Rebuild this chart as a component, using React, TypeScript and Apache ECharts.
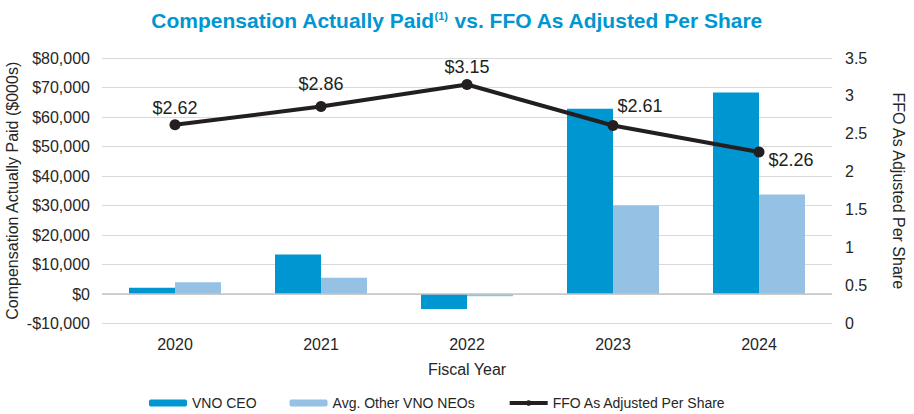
import React, { useEffect, useRef } from "react";
import * as echarts from "echarts";

const years = ["2020", "2021", "2022", "2023", "2024"];
const ceoValues = [2100, 13400, -5100, 62800, 68300];
const neoValues = [4000, 5500, -800, 30000, 33700];
const ffoValues = [2.62, 2.86, 3.15, 2.61, 2.26];
const ffoLabels = ["$2.62", "$2.86", "$3.15", "$2.61", "$2.26"];
const ffoLabelOffsets = [
  [0, -17],
  [0, -23],
  [0, -18],
  [27, -20],
  [32, 8],
];

const FONT = "'Liberation Sans', Arial, Helvetica, sans-serif";
const TXT = "#262626";

function money(v: number): string {
  const s = Math.abs(v)
    .toFixed(0)
    .replace(/\B(?=(\d{3})+(?!\d))/g, ",");
  return (v < 0 ? "-$" : "$") + s;
}

export default function App() {
  const ref = useRef<HTMLDivElement>(null);
  useEffect(() => {
    if (!ref.current) return;
    const chart = echarts.init(ref.current, undefined, { renderer: "svg" });
    chart.setOption({
      animation: false,
      backgroundColor: "#ffffff",
      title: {
        text: "{a|Compensation Actually Paid}{s|(1)}{a| vs. FFO As Adjusted Per Share}",
        left: "center",
        top: 5,
        textStyle: {
          rich: {
            a: {
              fontFamily: "'Liberation Sans Narrow', 'Arial Narrow', " + FONT,
              fontWeight: "bold",
              fontSize: 21,
              color: "#0096D1",
            },
            s: {
              fontFamily: "'Liberation Sans Narrow', 'Arial Narrow', " + FONT,
              fontWeight: "bold",
              fontSize: 11,
              color: "#0096D1",
              verticalAlign: "top",
              padding: [0, 0, 10, 0],
            },
          },
        },
      },
      legend: {
        bottom: -1,
        left: 144,
        itemWidth: 38,
        itemHeight: 7,
        itemGap: 33,
        textStyle: { fontFamily: FONT, fontSize: 14, color: TXT },
        data: [
          { name: "VNO CEO" },
          { name: "Avg. Other VNO NEOs" },
          { name: "FFO As Adjusted Per Share", lineStyle: { width: 4 } },
        ],
      },
      grid: {
        left: 102,
        right: 82,
        top: 58,
        bottom: 90.5,
        containLabel: false,
        outerBoundsMode: "none",
      },
      xAxis: {
        type: "category",
        data: years,
        axisLine: { show: false },
        axisTick: { show: false },
        axisLabel: { fontFamily: FONT, fontSize: 16, color: TXT, margin: 13 },
        name: "Fiscal Year",
        nameLocation: "middle",
        nameGap: 38,
        nameMoveOverlap: false,
        nameTextStyle: { fontFamily: FONT, fontSize: 16, color: TXT },
      },
      yAxis: [
        {
          type: "value",
          min: -10000,
          max: 80000,
          interval: 10000,
          axisLine: { show: false },
          axisTick: { show: false },
          splitLine: { show: true, lineStyle: { color: "#d9d9d9", width: 1 } },
          axisLabel: {
            fontFamily: FONT,
            fontSize: 16,
            color: TXT,
            margin: 12,
            formatter: (v: number) => money(v),
          },
          name: "Compensation Actually Paid ($000s)",
          nameLocation: "middle",
          nameGap: 82,
          nameMoveOverlap: false,
          nameTextStyle: { fontFamily: FONT, fontSize: 16, color: TXT },
        },
        {
          type: "value",
          min: 0,
          max: 3.5,
          interval: 0.5,
          axisLine: { show: false },
          axisTick: { show: false },
          splitLine: { show: false },
          axisLabel: { fontFamily: FONT, fontSize: 16, color: TXT, margin: 13 },
          name: "FFO As Adjusted Per Share",
          nameLocation: "middle",
          nameGap: 58,
          nameRotate: -90,
          nameMoveOverlap: false,
          nameTextStyle: { fontFamily: FONT, fontSize: 16, color: TXT },
        },
      ],
      series: [
        {
          name: "VNO CEO",
          type: "bar",
          data: ceoValues,
          barWidth: "31.5%",
          barGap: "0%",
          itemStyle: { color: "#0096D1" },
          markLine: {
            silent: true,
            symbol: "none",
            label: { show: false },
            lineStyle: { color: "#c4c4c4", width: 1.5, type: "solid" },
            data: [{ yAxis: 0 }],
          },
        },
        {
          name: "Avg. Other VNO NEOs",
          type: "bar",
          data: neoValues,
          barWidth: "31.5%",
          barGap: "0%",
          itemStyle: { color: "#95C1E4" },
        },
        {
          name: "FFO As Adjusted Per Share",
          type: "line",
          yAxisIndex: 1,
          z: 5,
          data: ffoValues.map((v, i) => ({
            value: v,
            label: {
              show: true,
              position: "inside",
              offset: ffoLabelOffsets[i],
              formatter: () => ffoLabels[i],
              fontFamily: FONT,
              fontSize: 18,
              color: "#231F20",
            },
          })),
          symbol: "circle",
          symbolSize: 11,
          lineStyle: { color: "#231F20", width: 4 },
          itemStyle: { color: "#231F20" },
        },
      ],
    });
    return () => chart.dispose();
  }, []);
  return (
    <div
      ref={ref}
      style={{ position: "absolute", left: 0, top: 0, width: 914, height: 414 }}
    />
  );
}
